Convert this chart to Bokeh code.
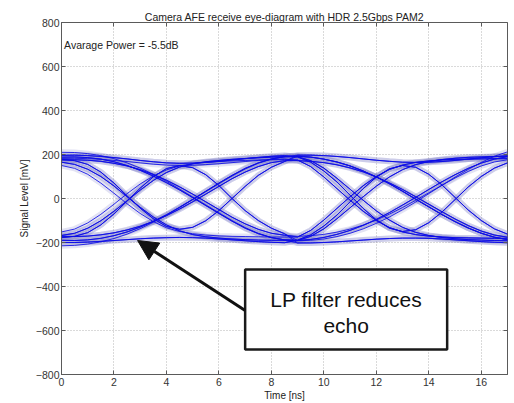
from bokeh.plotting import figure
from bokeh.models import (Range1d, LinearAxis, FixedTicker, Label, Arrow, NormalHead,
                          BoxAnnotation, CustomJSTickFormatter)
from bokeh.embed import file_html
from bokeh.resources import INLINE

TITLE = "Camera AFE receive eye-diagram with HDR 2.5Gbps PAM2"
X_LABEL = "Time [ns]"
Y_LABEL = "Signal Level [mV]"
NOTE = "Avarage Power = -5.5dB"
CALLOUT = ["LP filter reduces", "echo"]

X_TICKS = [0, 2, 4, 6, 8, 10, 12, 14, 16]
Y_TICKS = [-800, -600, -400, -200, 0, 200, 400, 600, 800]

# sample times of one displayed trace (ns)
T_NS = [0, 0.5, 1, 1.5, 2, 2.5, 3, 3.5, 4, 4.5, 5, 5.5, 6, 6.5, 7, 7.5, 8, 8.5,
        9, 9.5, 10, 10.5, 11, 11.5, 12, 12.5, 13, 13.5, 14, 14.5, 15, 15.5, 16, 16.5, 17]

# ---- first half of a trace, t = 0 .. 8.5 ns (mV)
F_HL_MID = [188, 189, 186, 179, 167, 150, 128, 102, 72, 39, 4, -32, -68, -103, -135, -160, -178, -188]
F_HL_MID2 = [175, 176, 174, 169, 160, 148, 131, 109, 83, 53, 20, -15, -50, -85, -115, -140, -158, -167]
F_HL_MID3 = [210, 209, 204, 195, 181, 162, 138, 110, 78, 43, 7, -29, -65, -100, -132, -158, -177, -188]
F_LH_MID = [-190, -191, -188, -181, -169, -152, -130, -104, -74, -40, -4, 33, 70, 105, 137, 162, 180, 190]
F_LH_MID2 = [-172, -173, -171, -165, -156, -143, -126, -104, -78, -48, -15, 20, 55, 90, 120, 145, 163, 172]
F_LH_MID3 = [-215, -213, -207, -197, -182, -162, -137, -108, -76, -41, -5, 31, 67, 102, 134, 160, 179, 190]
F_HL_EARLY = [165, 155, 133, 100, 57, 8, -40, -84, -120, -147, -164, -174, -180, -184, -187, -189, -190, -190]
F_HL_EARLY2 = [150, 137, 110, 70, 24, -24, -68, -105, -133, -150, -160, -166, -170, -172, -173, -174, -175, -175]
F_LH_EARLY = [-168, -158, -135, -101, -58, -10, 38, 82, 118, 143, 158, 167, 173, 178, 182, 185, 188, 190]
F_LH_EARLY2 = [-152, -139, -111, -72, -26, 22, 66, 102, 130, 148, 158, 164, 168, 171, 173, 175, 176, 177]
F_HLH = [178, 172, 155, 120, 70, 12, -44, -92, -127, -140, -131, -101, -55, 0, 55, 105, 142, 168]
F_LHL = [-178, -172, -155, -120, -70, -12, 47, 99, 136, 150, 140, 108, 59, 0, -55, -100, -135, -160]
F_HH = [196, 197, 195, 191, 186, 180, 173, 167, 162, 160, 161, 164, 169, 175, 181, 187, 192, 195]
F_HH2 = [182, 183, 181, 178, 173, 168, 162, 156, 152, 150, 151, 154, 158, 163, 168, 173, 177, 180]
F_LL = [-200, -200, -198, -195, -191, -187, -183, -180, -178, -177, -178, -180, -184, -188, -192, -196, -199, -201]

# ---- second half of a trace, t = 9 .. 17 ns (mV)
S_H_HL_MID = [192, 188, 179, 166, 148, 125, 98, 67, 33, -3, -38, -73, -105, -134, -158, -176, -187]
S_L_LH_MID = [-191, -186, -177, -163, -145, -122, -95, -64, -30, 5, 41, 76, 108, 137, 161, 179, 190]
S_H_HL_EARLY = [190, 172, 138, 92, 42, -8, -56, -98, -131, -154, -168, -177, -183, -187, -189, -191, -192]
S_L_LH_EARLY = [-191, -172, -138, -92, -42, 8, 56, 98, 131, 154, 168, 177, 183, 187, 189, 191, 192]
S_H_HLH = [189, 165, 125, 75, 15, -45, -97, -135, -150, -142, -110, -62, -5, 52, 100, 138, 162]
S_L_LHL = [-189, -165, -125, -75, -15, 45, 97, 135, 150, 142, 110, 62, 5, -52, -100, -138, -162]
S_HH = [197, 197, 195, 191, 186, 180, 174, 169, 165, 164, 165, 168, 173, 179, 185, 190, 194]
S_LL = [-202, -202, -200, -197, -193, -189, -185, -182, -180, -180, -181, -184, -188, -192, -196, -199, -201]
S_H_HL_MID2 = [172, 169, 163, 153, 139, 121, 98, 71, 41, 8, -26, -60, -93, -123, -148, -166, -176]
S_L_LH_MID2 = [-172, -169, -163, -153, -139, -121, -98, -71, -41, -8, 26, 60, 93, 123, 148, 166, 176]
S_H_HL_EARLY2 = [175, 145, 98, 45, -8, -58, -100, -132, -152, -164, -171, -175, -178, -179, -180, -181, -181]
S_L_LH_EARLY2 = [-175, -145, -98, -45, 8, 58, 100, 132, 152, 164, 171, 175, 178, 179, 180, 181, 181]
S_L_LH_MID3 = [-192, -190, -184, -173, -158, -138, -113, -84, -51, -16, 22, 60, 97, 132, 164, 192, 212]

FIRST = {
    "HL_MID": F_HL_MID, "HL_MID2": F_HL_MID2, "HL_MID3": F_HL_MID3, "LH_MID": F_LH_MID,
    "LH_MID2": F_LH_MID2, "LH_MID3": F_LH_MID3, "HL_EARLY": F_HL_EARLY,
    "HL_EARLY2": F_HL_EARLY2, "LH_EARLY": F_LH_EARLY, "LH_EARLY2": F_LH_EARLY2,
    "HLH": F_HLH, "LHL": F_LHL, "HH": F_HH, "HH2": F_HH2, "LL": F_LL,
}
SECOND = {
    "HL_MID": S_H_HL_MID, "LH_MID": S_L_LH_MID, "HL_EARLY": S_H_HL_EARLY,
    "LH_EARLY": S_L_LH_EARLY, "HLH": S_H_HLH, "LHL": S_L_LHL, "HH": S_HH, "LL": S_LL,
    "HL_MID2": S_H_HL_MID2, "LH_MID2": S_L_LH_MID2, "HL_EARLY2": S_H_HL_EARLY2,
    "LH_EARLY2": S_L_LH_EARLY2, "LH_MID3": S_L_LH_MID3,
}

# each displayed trace = (first half, second half)
TRACES = [
    ("HL_MID", "LH_MID"), ("LH_MID", "HL_MID"), ("HL_MID", "LHL"), ("LH_MID", "HLH"),
    ("HL_MID2", "LH_MID2"), ("LH_MID2", "HL_MID2"), ("HL_EARLY", "LL"), ("LH_EARLY", "HH"),
    ("HL_EARLY", "LH_EARLY"), ("LH_EARLY", "HL_EARLY"), ("HL_EARLY2", "LH_EARLY2"),
    ("LH_EARLY2", "HL_EARLY2"), ("HLH", "HH"), ("LHL", "LL"), ("HLH", "HL_MID"),
    ("LHL", "LH_MID"), ("HH", "HL_EARLY"), ("LL", "LH_EARLY"), ("HH", "HLH"), ("LL", "LHL"),
    ("HH2", "HL_MID2"), ("LH_MID2", "HL_EARLY2"), ("HL_MID2", "LH_EARLY2"),
    ("HL_MID3", "LH_MID3"), ("LH_MID3", "HL_MID"),
]

xs, ys = [], []
for first, second in TRACES:
    xs.append(T_NS)
    ys.append(FIRST[first] + SECOND[second])

FONT = "Liberation Sans"
AXIS_GREY = "#5a5a5a"

p = figure(frame_width=446, frame_height=352, x_range=Range1d(0, 17), y_range=Range1d(-800, 800),
           output_backend="svg", toolbar_location=None, title=TITLE,
           min_border_left=61, min_border_right=7, min_border_top=22, min_border_bottom=29)
p.background_fill_color = "white"
p.border_fill_color = "white"
p.outline_line_color = AXIS_GREY
p.outline_line_width = 1

p.title.align = "center"
p.title.text_font = FONT
p.title.text_font_size = "10.5px"
p.title.text_font_style = "normal"
p.title.text_color = "#222222"
p.title.standoff = 0
p.title.offset = 0

for ax, ticks in ((p.xaxis[0], X_TICKS), (p.yaxis[0], Y_TICKS)):
    ax.ticker = FixedTicker(ticks=ticks)
    ax.major_tick_in = 4
    ax.major_tick_out = 0
    ax.minor_tick_line_color = None
    ax.axis_line_color = AXIS_GREY
    ax.major_tick_line_color = AXIS_GREY
    ax.major_label_text_font = FONT
    ax.major_label_text_font_size = "10.5px"
    ax.major_label_text_color = "#333333"
    ax.axis_label_text_font = FONT
    ax.axis_label_text_font_size = "10px"
    ax.axis_label_text_font_style = "normal"
    ax.axis_label_text_color = "#222222"
p.xaxis.axis_label = X_LABEL
p.yaxis.axis_label = Y_LABEL
p.xaxis.major_label_standoff = 3
p.xaxis.axis_label_standoff = 1
p.yaxis.major_label_standoff = 2
p.yaxis.axis_label_standoff = 3

blank = CustomJSTickFormatter(code="return ''")
for loc, ticks in (("above", X_TICKS), ("right", Y_TICKS)):
    ax = LinearAxis(ticker=FixedTicker(ticks=ticks), formatter=blank, major_tick_in=4,
                    major_tick_out=0, minor_tick_line_color=None, axis_line_color=None,
                    major_tick_line_color=AXIS_GREY, major_label_standoff=0,
                    major_label_text_font_size="1px")
    p.add_layout(ax, loc)

p.xgrid.ticker = FixedTicker(ticks=X_TICKS)
p.ygrid.ticker = FixedTicker(ticks=Y_TICKS)
for g in (p.xgrid[0], p.ygrid[0]):
    g.grid_line_color = "#b4b4b4"
    g.grid_line_dash = "1 2"
    g.grid_line_width = 1

p.multi_line(xs, ys, line_color="#8080c8", line_width=6, line_alpha=0.22)
p.multi_line(xs, ys, line_color="#0c0ce6", line_width=1.0, line_alpha=0.85)

p.add_layout(Label(x=0.1, y=700, text=NOTE, text_font=FONT, text_font_size="10.5px",
                   text_baseline="middle", text_color="#222222"))

p.add_layout(BoxAnnotation(left=7.0, right=14.7, top=-323, bottom=-686, fill_color="white",
                           fill_alpha=1.0, line_color="#1a1a1a", line_alpha=1.0, line_width=2.5))
p.add_layout(Label(x=10.85, y=-460, text=CALLOUT[0], text_font=FONT, text_font_size="21px",
                   text_align="center", text_baseline="middle", text_color="#111111"))
p.add_layout(Label(x=10.85, y=-576, text=CALLOUT[1], text_font=FONT, text_font_size="21px",
                   text_align="center", text_baseline="middle", text_color="#111111"))
p.add_layout(Arrow(end=NormalHead(size=20, fill_color="#111111", line_color="#111111"),
                   x_start=7.0, y_start=-509, x_end=2.9, y_end=-191,
                   line_width=3, line_color="#111111"))

open("out.html", "w").write(file_html(p, INLINE))
